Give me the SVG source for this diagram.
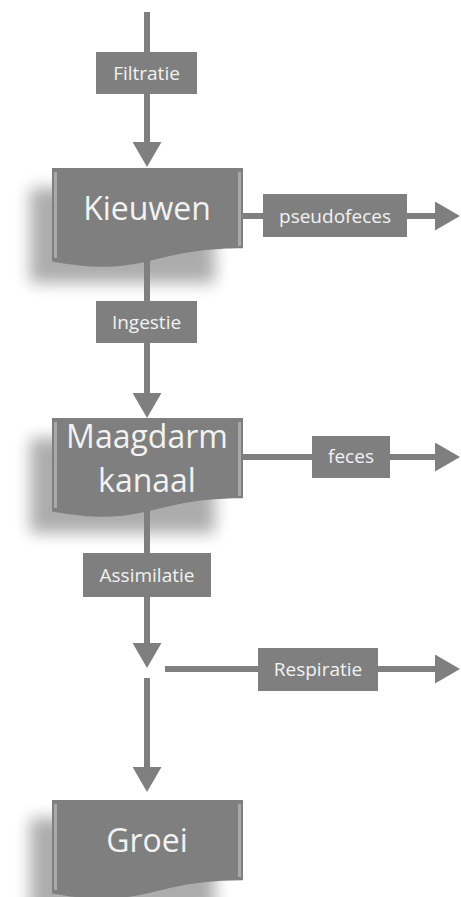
<svg xmlns="http://www.w3.org/2000/svg" width="461" height="897" viewBox="0 0 461 897">
<style>
.ln{stroke:#7f7f7f;stroke-width:6;fill:none}
.lbl{fill:#7f7f7f}
.box{fill:#7f7f7f}
.sh{fill:#000;opacity:0.32}
.bevel{stroke:#b4b4b4;stroke-width:3;fill:none;opacity:0.8}
.t{font-family:"Open Sans","Noto Sans","Liberation Sans",sans-serif;fill:#f2f2f2;text-anchor:middle}
.ts{font-size:19px}
.tb{font-size:32px}
</style>
<defs>
<marker id="arr" viewBox="0 0 25 29" refX="5" refY="14.5" markerWidth="25" markerHeight="29" markerUnits="userSpaceOnUse" orient="auto">
<path d="M0,0 L25,14.5 L0,29 Z" fill="#7f7f7f"/>
</marker>
<path id="doc" d="M0,0 H191 V80.2 C95.5,80.2 95.5,110.75 0,93.4 Z"/>
<filter id="sh" x="-30%" y="-40%" width="160%" height="180%">
<feGaussianBlur stdDeviation="8"/>
</filter>
</defs>

<g id="shadows">
<rect class="sh" x="30" y="188" width="185" height="95" filter="url(#sh)"/>
<rect class="sh" x="30" y="438" width="185" height="95" filter="url(#sh)"/>
<rect class="sh" x="30" y="818" width="185" height="95" filter="url(#sh)"/>
</g>

<g id="connectors">
<line class="ln" x1="147" y1="12" x2="147" y2="147" marker-end="url(#arr)"/>
<line class="ln" x1="147" y1="250" x2="147" y2="398" marker-end="url(#arr)"/>
<line class="ln" x1="147" y1="500" x2="147" y2="648" marker-end="url(#arr)"/>
<line class="ln" x1="147" y1="678" x2="147" y2="772" marker-end="url(#arr)"/>
<line class="ln" x1="240" y1="216" x2="440" y2="216" marker-end="url(#arr)"/>
<line class="ln" x1="240" y1="457" x2="440" y2="457" marker-end="url(#arr)"/>
<line class="ln" x1="165" y1="669" x2="440" y2="669" marker-end="url(#arr)"/>
<g id="lbl-filtratie"><rect class="lbl" x="96" y="52" width="101" height="42"/><text class="t ts" x="146.5" y="80">Filtratie</text></g>
<g id="lbl-pseudofeces"><rect class="lbl" x="263" y="194" width="144" height="43"/><text class="t ts" x="335" y="222.5">pseudofeces</text></g>
<g id="lbl-ingestie"><rect class="lbl" x="96" y="301" width="101" height="42"/><text class="t ts" x="146.5" y="329">Ingestie</text></g>
<g id="lbl-feces"><rect class="lbl" x="312" y="436" width="78" height="42"/><text class="t ts" x="351" y="463">feces</text></g>
<g id="lbl-assimilatie"><rect class="lbl" x="83" y="553" width="128" height="44"/><text class="t ts" x="147" y="582">Assimilatie</text></g>
<g id="lbl-respiratie"><rect class="lbl" x="258" y="648" width="120" height="43"/><text class="t ts" x="318" y="676">Respiratie</text></g>
</g>

<g id="kieuwen">
<use href="#doc" class="box" transform="translate(52,168)"/>
<line class="bevel" x1="55.5" y1="172" x2="55.5" y2="258"/>
<line class="bevel" x1="239.5" y1="172" x2="239.5" y2="246"/>
<text class="t tb" x="147" y="220">Kieuwen</text>
</g>

<g id="maagdarm">
<use href="#doc" class="box" transform="translate(52,418)"/>
<line class="bevel" x1="55.5" y1="422" x2="55.5" y2="508"/>
<line class="bevel" x1="239.5" y1="422" x2="239.5" y2="496"/>
<text class="t tb" x="147" y="448">Maagdarm</text>
<text class="t tb" x="147" y="492">kanaal</text>
</g>

<g id="groei">
<use href="#doc" class="box" transform="translate(52,800)"/>
<line class="bevel" x1="55.5" y1="804" x2="55.5" y2="890"/>
<line class="bevel" x1="239.5" y1="804" x2="239.5" y2="877"/>
<text class="t tb" x="147" y="852">Groei</text>
</g>
</svg>
